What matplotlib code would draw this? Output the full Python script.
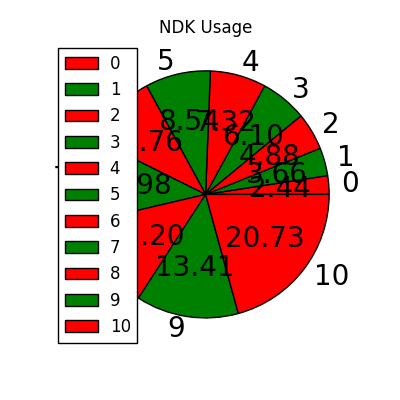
import matplotlib
matplotlib.use("Agg")
import matplotlib.pyplot as plt

# ---------------- DATA ----------------
labels = ["0", "1", "2", "3", "4", "5", "6", "7", "8", "9", "10"]
counts = [2, 3, 4, 5, 6, 7, 8, 9, 10, 11, 17]
colors = ["r", "g"] * 5 + ["r"]

# ---------------- PLOT ----------------
plt.style.use("classic")
fig = plt.figure(figsize=(4, 4), dpi=100)
ax = fig.add_axes([0.128, 0.128, 0.772, 0.772])

ax.pie(counts, labels=labels, colors=colors, autopct="%.2f",
       textprops={"fontsize": 20})
ax.set_xlim(-1.25, 1.25)
ax.set_ylim(-1.25, 1.25)
ax.set_aspect("equal")
ax.set_title("NDK Usage", fontsize=12)
ax.legend(loc="upper left", fontsize=12, borderaxespad=0,
          bbox_to_anchor=(0.145, 0.88), bbox_transform=fig.transFigure,
          handletextpad=0.7)
ax.axis("off")

fig.savefig("out.png", dpi=100)
